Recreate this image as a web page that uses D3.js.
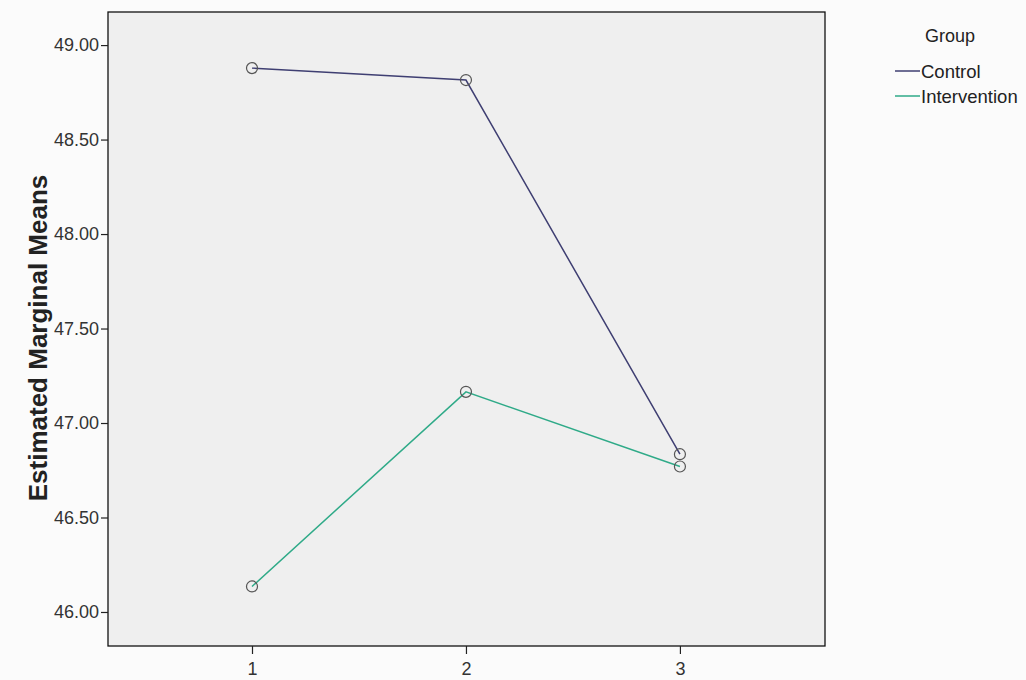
<!DOCTYPE html>
<html><head><meta charset="utf-8">
<script src="https://cdn.jsdelivr.net/npm/d3@7"></script>
<style>
html,body{margin:0;padding:0;background:#fbfbfb;}
svg{display:block;font-family:"Liberation Sans",Arial,sans-serif;}
</style></head>
<body>
<svg id="c" width="1026" height="680"></svg>
<script>
const timePoints = [1, 2, 3];
const groups = ["Control", "Intervention"];
const controlMeans = [48.878, 48.815, 46.835];
const interventionMeans = [46.135, 47.165, 46.77];
const yTicks = [46.0, 46.5, 47.0, 47.5, 48.0, 48.5, 49.0];
const groupColors = ["#3f3f72", "#2faa88"];

(function () {
const svg = d3.select("#c");
const pL = 108, pR = 825, pT = 12, pB = 646;

const x = d3.scaleLinear().domain([0.327, 3.678]).range([pL, pR]);
const y = d3.scaleLinear().domain([45.82, 49.175]).range([pB, pT]);

svg.append("rect").attr("x", pL).attr("y", pT)
  .attr("width", pR - pL).attr("height", pB - pT)
  .attr("fill", "#efefef").attr("stroke", "#111").attr("stroke-width", 1.3);

const yAxis = d3.axisLeft(y).tickValues(yTicks).tickFormat(d3.format(".2f")).tickSize(7).tickPadding(2);
const gy = svg.append("g").attr("transform", `translate(${pL},0)`).call(yAxis);
gy.select(".domain").remove();
gy.selectAll("text").attr("font-size", 18).attr("fill", "#333").attr("font-family", "Liberation Sans, Arial");
gy.selectAll("line").attr("stroke", "#222").attr("stroke-width", 1.2);

const xAxis = d3.axisBottom(x).tickValues(timePoints).tickFormat(d3.format("d")).tickSize(8).tickPadding(8);
const gx = svg.append("g").attr("transform", `translate(0,${pB})`).call(xAxis);
gx.select(".domain").remove();
gx.selectAll("text").attr("font-size", 18).attr("fill", "#333").attr("font-family", "Liberation Sans, Arial");
gx.selectAll("line").attr("stroke", "#222").attr("stroke-width", 1.2);

svg.append("text").attr("transform", `translate(47,338) rotate(-90)`)
  .attr("text-anchor", "middle").attr("font-size", 26).attr("font-weight", "bold")
  .attr("fill", "#222").text("Estimated Marginal Means");

const series = [controlMeans, interventionMeans];
const line = d3.line().x((d, i) => x(timePoints[i])).y(d => y(d));
series.forEach((vals, k) => {
  svg.append("path").datum(vals).attr("d", line)
    .attr("fill", "none").attr("stroke", groupColors[k]).attr("stroke-width", 1.5);
});
series.forEach((vals, k) => {
  svg.selectAll(null).data(vals).enter().append("circle")
    .attr("cx", (d, i) => x(timePoints[i])).attr("cy", d => y(d))
    .attr("r", 5.5).attr("fill", "none").attr("stroke", "#555").attr("stroke-width", 1.2);
});

const lg = svg.append("g");
lg.append("text").attr("x", 950).attr("y", 42).attr("text-anchor", "middle")
  .attr("font-size", 18).attr("fill", "#222").text("Group");
groups.forEach((g, i) => {
  const yy = 71 + i * 25;
  lg.append("line").attr("x1", 895).attr("x2", 920).attr("y1", yy).attr("y2", yy)
    .attr("stroke", groupColors[i]).attr("stroke-width", 1.5);
  lg.append("text").attr("x", 921).attr("y", yy + 6.5).attr("font-size", 18.5)
    .attr("fill", "#222").text(g);
});
})();
</script>
</body></html>
